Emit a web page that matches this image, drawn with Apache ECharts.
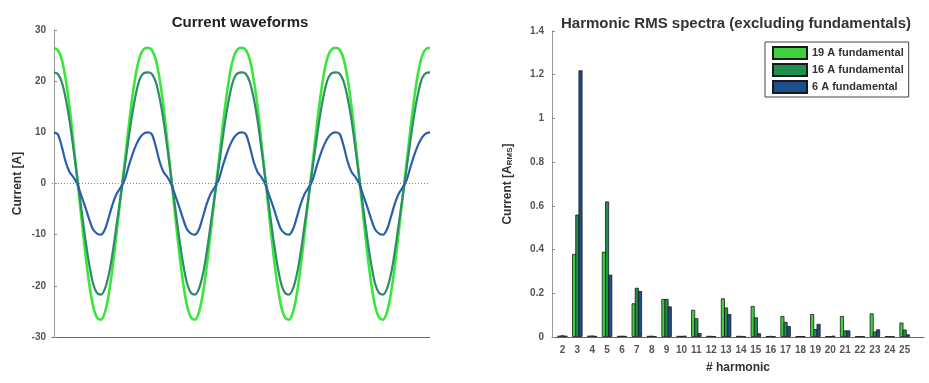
<!DOCTYPE html>
<html>
<head>
<meta charset="utf-8">
<script src="https://cdn.jsdelivr.net/npm/echarts@6/dist/echarts.min.js"></script>
<style>
  html, body { margin: 0; padding: 0; background: #fff; }
  #chart { width: 929px; height: 383px; }
</style>
</head>
<body>
<div id="chart"></div>
<script>
// one measured cycle (24 samples) of each current trace, the plot shows 4 cycles
var cycle19 = [26.5, 26.1, 24.2, 20.3, 14.8, 7.8, 0.6, -6.6, -13.6, -19.6, -24.0, -26.2,
  -26.6, -25.2, -21.6, -16.2, -9.6, -2.8, 3.8, 10.6, 16.8, 21.8, 25.0, 26.3];
var cycle16 = [21.7, 21.4, 19.8, 16.6, 12.2, 6.6, 0.8, -5.0, -10.8, -15.8, -19.6, -21.4,
  -21.7, -20.6, -17.8, -13.4, -8.0, -2.6, 2.8, 8.4, 13.6, 17.8, 20.6, 21.6];
var cycle6 = [10.0, 9.6, 7.2, 4.2, 2.2, 1.2, -0.2, -2.4, -4.6, -7.0, -9.0, -9.8,
  -10.0, -9.0, -6.6, -4.0, -2.0, -0.8, 0.6, 3.2, 5.6, 7.6, 9.0, 9.8];
var cycles = 4;

// harmonic spectra (A rms)
var harmonics = [2, 3, 4, 5, 6, 7, 8, 9, 10, 11, 12, 13, 14, 15, 16, 17, 18, 19, 20, 21, 22, 23, 24, 25];
var rms19 = [0.006, 0.38, 0.006, 0.39, 0.005, 0.154, 0.005, 0.174, 0.005, 0.124, 0.005, 0.177,
  0.005, 0.142, 0.004, 0.096, 0.004, 0.105, 0.004, 0.096, 0.004, 0.108, 0.004, 0.066];
var rms16 = [0.008, 0.56, 0.007, 0.62, 0.006, 0.225, 0.006, 0.174, 0.005, 0.086, 0.005, 0.135,
  0.005, 0.09, 0.005, 0.069, 0.004, 0.036, 0.004, 0.03, 0.004, 0.025, 0.004, 0.034];
var rms6 = [0.006, 1.22, 0.005, 0.285, 0.005, 0.21, 0.004, 0.14, 0.006, 0.018, 0.004, 0.105,
  0.003, 0.017, 0.003, 0.05, 0.004, 0.06, 0.006, 0.03, 0.003, 0.035, 0.003, 0.012];

var legendNames = ['19 A fundamental', '16 A fundamental', '6 A fundamental'];

function trace(cycle) {
  var out = [];
  for (var c = 0; c < cycles; c++) {
    for (var i = 0; i < cycle.length; i++) {
      out.push([c * cycle.length + i, cycle[i]]);
    }
  }
  out.push([cycles * cycle.length, cycle[0]]);
  return out;
}
function pairs(xs, ys) {
  return xs.map(function (x, i) { return [x, ys[i]]; });
}

var font = "'Liberation Sans', Arial, sans-serif";
var axisLabel = { color: '#555', fontSize: 10, fontWeight: 'bold', fontFamily: font };

var chart = echarts.init(document.getElementById('chart'));
chart.setOption({
  animation: false,
  title: [
    {
      text: 'Current waveforms', left: 235, top: 10, textAlign: 'center',
      textStyle: { fontSize: 15, fontWeight: 'bold', color: '#222', fontFamily: font }
    },
    {
      text: 'Harmonic RMS spectra (excluding fundamentals)', left: 731, top: 11, textAlign: 'center',
      textStyle: { fontSize: 15, fontWeight: 'bold', color: '#333', fontFamily: font }
    }
  ],
  legend: {
    data: legendNames,
    orient: 'vertical',
    left: 765,
    top: 42,
    itemWidth: 34,
    itemHeight: 12,
    itemGap: 3,
    padding: [4, 5, 3, 7],
    icon: 'rect',
    borderColor: '#444',
    borderWidth: 1,
    textStyle: { fontSize: 11, lineHeight: 12, fontWeight: 'bold', color: '#333', fontFamily: font }
  },
  grid: [
    { left: 52, top: 30, width: 378, height: 307 },
    { left: 552, top: 31, width: 372, height: 306 }
  ],
  xAxis: [
    {
      gridIndex: 0, type: 'value', min: -0.5, max: 96,
      splitLine: { show: false },
      axisLabel: { show: false },
      axisTick: { show: false },
      axisLine: { onZero: false, lineStyle: { color: '#666' } }
    },
    {
      gridIndex: 1, type: 'value', min: 1.3, max: 26.3,
      name: '# harmonic', nameLocation: 'middle', nameGap: 25,
      nameTextStyle: { fontSize: 12, fontWeight: 'bold', color: '#333', fontFamily: font },
      splitLine: { show: false },
      axisLabel: Object.assign({ customValues: harmonics, margin: 8 }, axisLabel),
      axisTick: { show: false },
      axisLine: { onZero: false, lineStyle: { color: '#666' } }
    }
  ],
  yAxis: [
    {
      gridIndex: 0, type: 'value', min: -30, max: 30, interval: 10,
      name: 'Current [A]', nameLocation: 'middle', nameGap: 28,
      nameTextStyle: { fontSize: 12, fontWeight: 'bold', color: '#333', fontFamily: font },
      splitLine: { show: false },
      axisLabel: Object.assign({ margin: 6 }, axisLabel),
      axisTick: { inside: true, length: 3, lineStyle: { color: '#888' } },
      axisLine: { show: true, lineStyle: { color: '#999' } }
    },
    {
      gridIndex: 1, type: 'value', min: 0, max: 1.4, interval: 0.2,
      name: '{a|Current [A}{s|RMS}{a|]}', nameLocation: 'middle', nameGap: 38,
      nameTextStyle: {
        rich: {
          a: { fontSize: 12, fontWeight: 'bold', color: '#333', fontFamily: font, verticalAlign: 'bottom', lineHeight: 16 },
          s: { fontSize: 8, fontWeight: 'bold', color: '#333', fontFamily: font, verticalAlign: 'bottom', lineHeight: 12 }
        }
      },
      splitLine: { show: false },
      axisLabel: Object.assign({ margin: 8 }, axisLabel),
      axisTick: { inside: true, length: 3, lineStyle: { color: '#888' } },
      axisLine: { show: true, lineStyle: { color: '#999' } }
    }
  ],
  series: [
    {
      name: 'trace19', type: 'line', xAxisIndex: 0, yAxisIndex: 0,
      data: trace(cycle19), showSymbol: false, smooth: 0.3,
      lineStyle: { color: '#3be63b', width: 2.6 },
      markLine: {
        silent: true, symbol: 'none', label: { show: false },
        lineStyle: { color: '#888', type: [1, 2], width: 1 },
        data: [{ yAxis: 0 }]
      }
    },
    {
      name: 'trace16', type: 'line', xAxisIndex: 0, yAxisIndex: 0,
      data: trace(cycle16), showSymbol: false, smooth: 0.3,
      lineStyle: { color: '#2e8c68', width: 2.2 }
    },
    {
      name: 'trace6', type: 'line', xAxisIndex: 0, yAxisIndex: 0,
      data: trace(cycle6), showSymbol: false, smooth: 0.3,
      lineStyle: { color: '#2a5fae', width: 2.2 }
    },
    {
      name: legendNames[0], type: 'bar', xAxisIndex: 1, yAxisIndex: 1,
      data: pairs(harmonics, rms19), barWidth: 4, barGap: '-20%',
      itemStyle: { color: '#3dd13d', borderColor: '#1a1a1a', borderWidth: 0.8 }
    },
    {
      name: legendNames[1], type: 'bar', xAxisIndex: 1, yAxisIndex: 1,
      data: pairs(harmonics, rms16), barWidth: 4, barGap: '-20%',
      itemStyle: { color: '#1f8f4e', borderColor: '#1a1a1a', borderWidth: 0.8 }
    },
    {
      name: legendNames[2], type: 'bar', xAxisIndex: 1, yAxisIndex: 1,
      data: pairs(harmonics, rms6), barWidth: 4, barGap: '-20%',
      itemStyle: { color: '#1d4f8c', borderColor: '#1a1a1a', borderWidth: 0.8 }
    }
  ]
});
</script>
</body>
</html>
